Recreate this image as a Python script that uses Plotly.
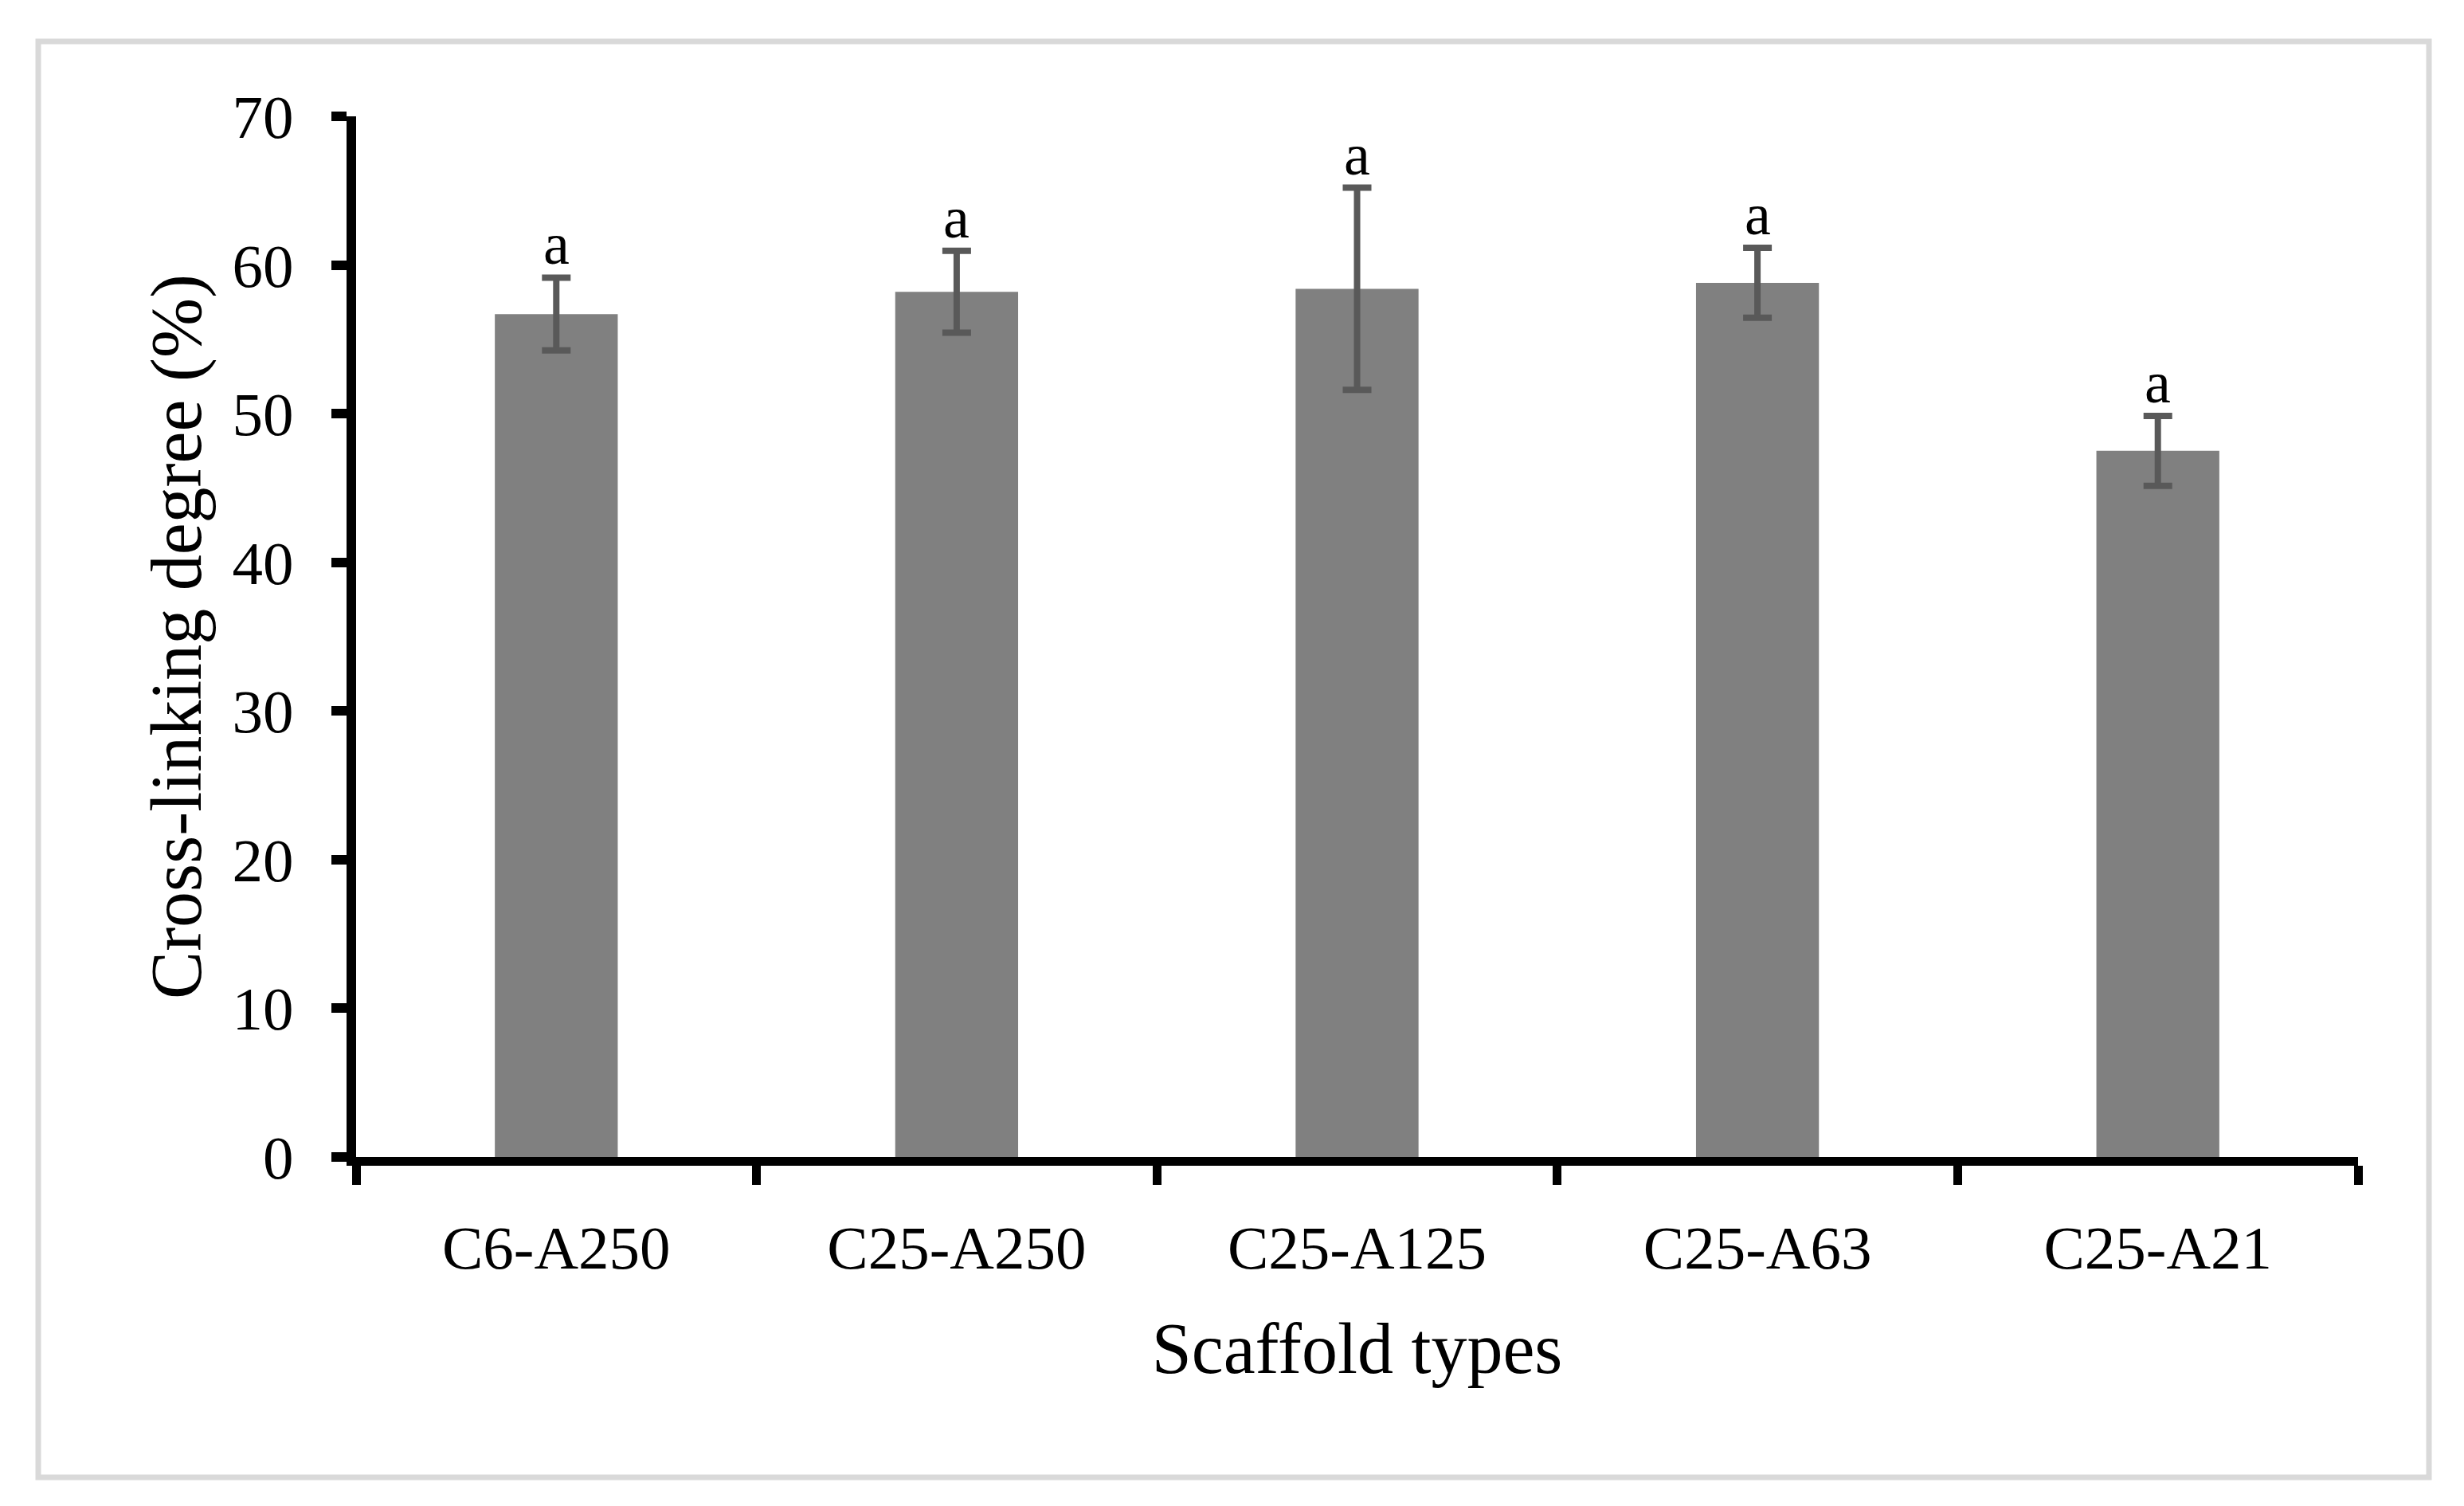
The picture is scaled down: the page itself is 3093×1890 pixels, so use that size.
import plotly.graph_objects as go

# ---- data ----
categories = ["C6-A250", "C25-A250", "C25-A125", "C25-A63", "C25-A21"]
values = [56.7, 58.2, 58.4, 58.8, 47.5]
errors = [2.45, 2.75, 6.8, 2.35, 2.35]
letters = ["a", "a", "a", "a", "a"]
y_tick_vals = [0, 10, 20, 30, 40, 50, 60, 70]
x_title = "Scaffold types"
y_title = "Cross-linking degree (%)"

FONT = "Liberation Serif, Times New Roman, serif"

# page has an 8px body margin, so the figure is shifted by 8px
OFF = 8
W, H = 3093 - OFF, 1890 - OFF
L = 447 - OFF
T = 146 - OFF
R = W - (2960 - OFF)
B = H - (1452 - OFF)
pw = W - L - R
ph = H - T - B

fig = go.Figure()
fig.add_trace(go.Bar(
    x=categories, y=values,
    marker=dict(color="#808080", line=dict(width=0)),
    error_y=dict(type="data", array=errors, visible=True,
                 color="#595959", thickness=8, width=18),
    showlegend=False,
))

for c, v, e, t in zip(categories, values, errors, letters):
    fig.add_annotation(x=c, y=v + e, text=t, showarrow=False,
                       xref="x", yref="y", yanchor="bottom", yshift=-1,
                       font=dict(family=FONT, size=74, color="black"))

# outer light-grey frame (page pixel positions converted to paper coords)
fx0, fy0, fx1, fy1 = 48 - OFF, 52 - OFF, 3049 - OFF, 1854 - OFF
fig.add_shape(type="rect", xref="paper", yref="paper",
              x0=(fx0 - L) / pw, x1=(fx1 - L) / pw,
              y0=(H - B - fy1) / ph, y1=(H - B - fy0) / ph,
              line=dict(color="#d9d9d9", width=7), fillcolor="rgba(0,0,0,0)",
              layer="below")

fig.update_layout(
    width=W, height=H,
    margin=dict(l=L, r=R, t=T, b=B),
    paper_bgcolor="white", plot_bgcolor="white",
    bargap=0.693,
    font=dict(family=FONT, color="black"),
    xaxis=dict(
        type="category", showline=True, linecolor="black", linewidth=11,
        ticks="outside", tickson="boundaries", ticklen=24, tickwidth=11,
        tickcolor="black", showgrid=False,
        tickfont=dict(family=FONT, size=77, color="black"),
        ticklabelstandoff=37,
        title=dict(text=x_title, font=dict(family=FONT, size=90, color="black"),
                   standoff=56),
    ),
    yaxis=dict(
        range=[0, 70], tickvals=y_tick_vals, showline=True, linecolor="black",
        linewidth=12, ticks="outside", ticklen=19, tickwidth=12,
        tickcolor="black", showgrid=False, zeroline=False,
        tickfont=dict(family=FONT, size=77, color="black"),
        ticklabelstandoff=32,
        title=dict(text=y_title, font=dict(family=FONT, size=90, color="black"),
                   standoff=14),
    ),
)

fig.write_html("out.html")
